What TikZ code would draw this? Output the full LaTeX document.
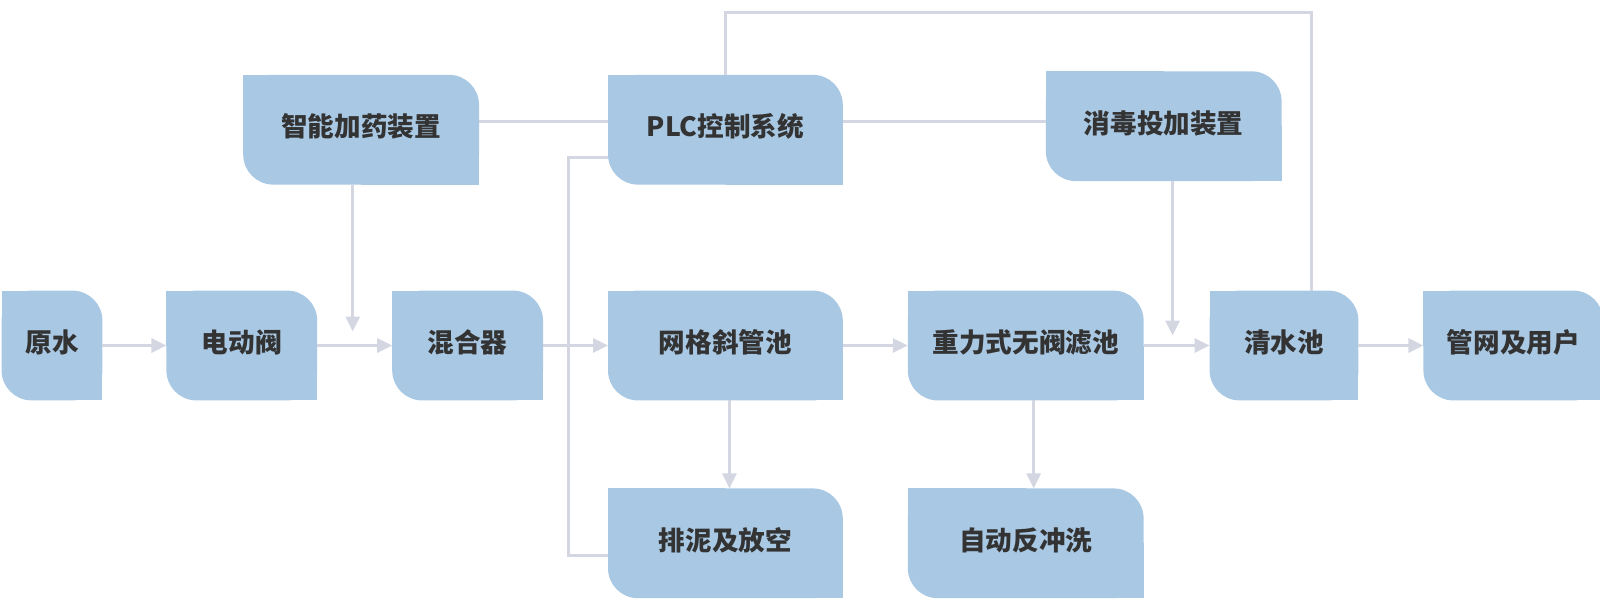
\documentclass[tikz,border=0pt]{standalone}
\usepackage{fontspec}
\newfontfamily\cjk{Noto Sans CJK SC}
\usetikzlibrary{positioning,arrows.meta,backgrounds,calc}
\definecolor{boxblue}{HTML}{A9C8E3}
\definecolor{linegray}{HTML}{D4D7E2}
\definecolor{textdark}{HTML}{333333}
\tikzset{
  proc/.style={minimum height=54.5pt, inner sep=0pt, text=textdark,
    font=\cjk\bfseries\fontsize{13.3pt}{16pt}\selectfont,
    text height=10.4pt, text depth=3.6pt},
  link/.style={draw=linegray, line width=1.5pt},
  flow/.style={link, -{Triangle[length=7.5pt,width=7pt]}}
}

\begin{document}
\begin{tikzpicture}
  \path[use as bounding box] (0,0) rectangle (800pt,-303pt);
  \node[proc, minimum width=50pt] (raw) at (26pt,-172.75pt) {原水};
  \node[proc, minimum width=75pt, right=32pt of raw] (valve) {电动阀};
  \node[proc, minimum width=75pt, right=37.5pt of valve] (mixer) {混合器};
  \node[proc, minimum width=117pt, right=32.5pt of mixer] (tank) {网格斜管池};
  \node[proc, minimum width=117.5pt, right=32.5pt of tank] (filter) {重力式无阀滤池};
  \node[proc, minimum width=74pt, right=33pt of filter] (clear) {清水池};
  \node[proc, minimum width=89.5pt, right=32.5pt of clear] (net) {管网及用户};
  \node[proc, minimum width=117pt, above=53pt of tank] (plc) {PLC控制系统};
  \node[proc, minimum width=117.5pt, left=64.5pt of plc] (dosing) {智能加药装置};
  \node[proc, minimum width=117.5pt, right=101.5pt of plc, yshift=1.75pt] (disinf) {消毒投加装置};
  \node[proc, minimum width=117pt, below=44pt of tank] (drain) {排泥及放空};
  \node[proc, minimum width=117.5pt, below=44pt of filter] (wash) {自动反冲洗};

  \begin{scope}[on background layer]
    \foreach \n in {raw,valve,mixer,tank,filter,clear,net,plc,dosing,disinf,drain,wash} {
      \fill[boxblue, rounded corners=15pt] (\n.south west) rectangle (\n.north east);
      \fill[boxblue] (\n.north west) rectangle (\n.center);
      \fill[boxblue] (\n.south east) rectangle (\n.center);
    }
  \end{scope}

  \coordinate (dosetip) at ($(valve.east)!0.5!(mixer.west) + (-1pt,7pt)$);
  \coordinate (disinftip) at ($(filter.east)!0.5!(clear.west) + (-2pt,5pt)$);

  \draw[flow] (raw.east) -- (valve.west);
  \draw[flow] (valve.east) -- (mixer.west);
  \draw[flow] (mixer.east) -- (tank.west);
  \draw[flow] (tank.east) -- (filter.west);
  \draw[flow] (filter.east) -- (clear.west);
  \draw[flow] (clear.east) -- (net.west);
  \draw[flow] (dosing.south -| dosetip) -- (dosetip);
  \draw[flow] (disinf.south -| disinftip) -- (disinftip);
  \draw[flow] ([xshift=2pt]tank.south) -- ([xshift=2pt]drain.north);
  \draw[flow] ([xshift=4pt]filter.south) -- ([xshift=4pt]wash.north);
  \draw[link] ([yshift=4pt]dosing.east) -- ([yshift=4pt]plc.west);
  \draw[link] ([yshift=4pt]plc.east) -- ([yshift=4pt]plc.east -| disinf.west);
  \draw[link] ([yshift=-14pt]plc.west) -- ++(-20pt,0) |- ([yshift=-6pt]drain.west);
  \draw[link] (plc.north) -- ++(0,31pt) -| ([xshift=13.5pt]clear.north);
\end{tikzpicture}
\end{document}
